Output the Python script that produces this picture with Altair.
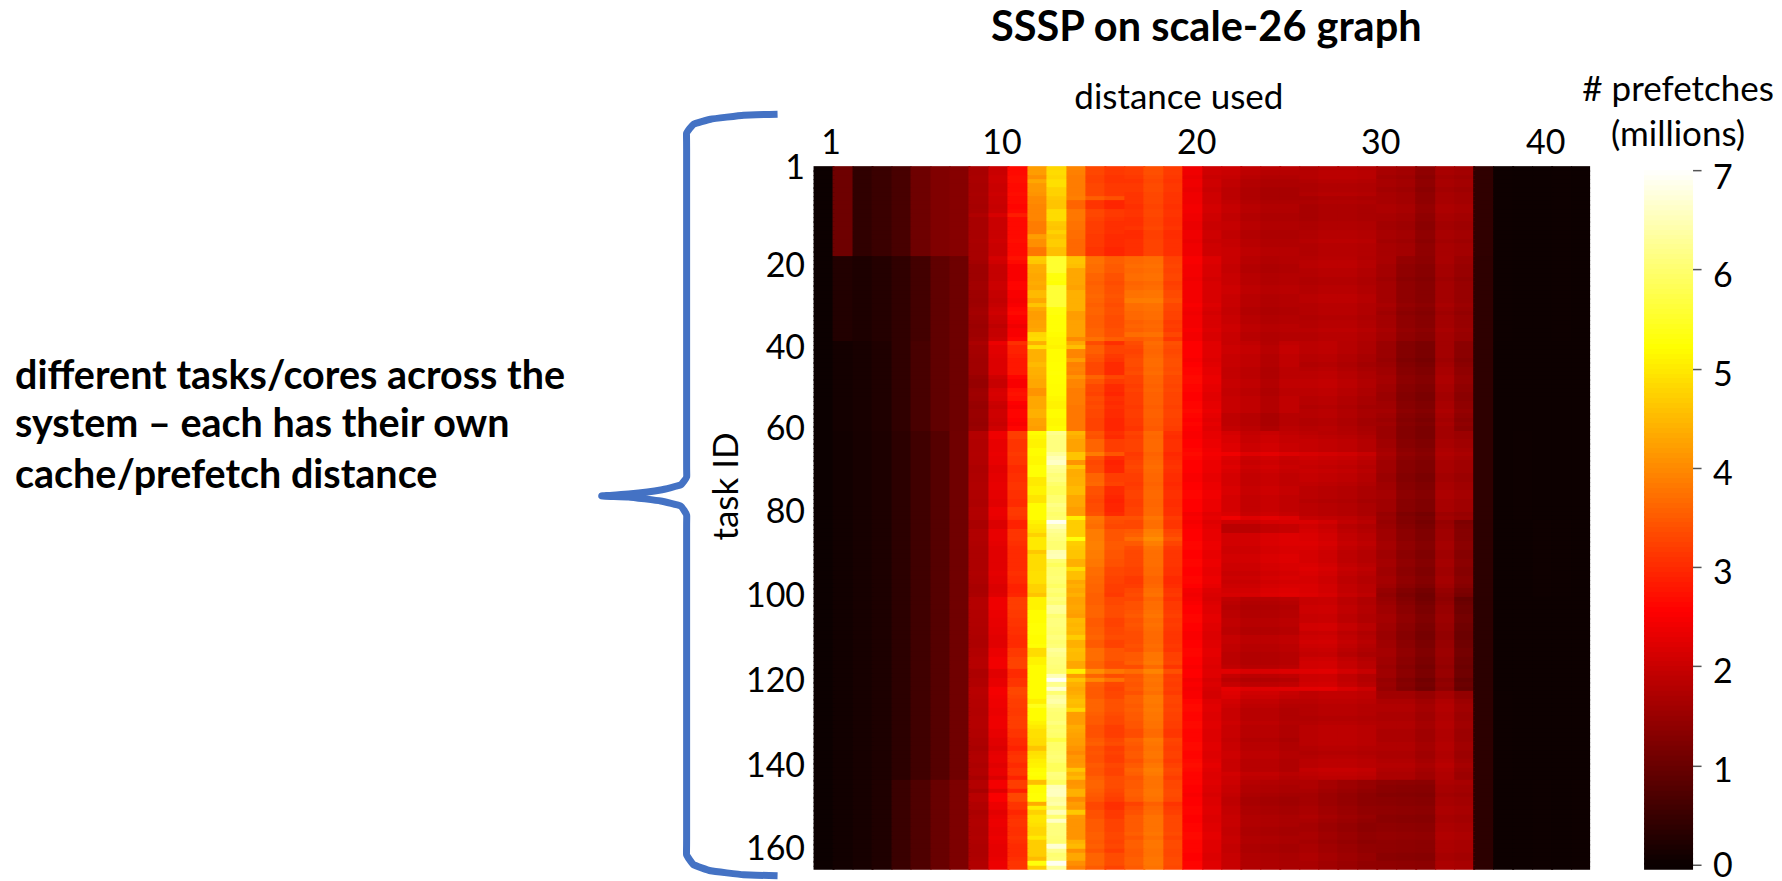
import altair as alt
import numpy as np
import pandas as pd

FONT = "Lato"
X0, COLW = 814.7, 19.42      # page pixels of the heatmap's left edge / column width
Y0, ROWH = 167.0, 4.267
NCOL, NROW = 40, 165

band_edges = [0, 21, 41, 62, 83, 101, 123, 144, 165]
band0 = [.02,1.05,.4,.5,.65,1.05,1.23,1.3,1.65,2.0,2.65,4.1,4.7,3.8,3.2,3.05,3.1,3.3,3.1,2.4,2.05,1.95,1.82,1.75,1.75,1.75,1.8,1.8,1.77,1.65,1.6,1.4,1.65,1.6,.4,.04,.03,.03,.04,.03]
band1 = [.02,.25,.2,.27,.4,.6,.9,1.05,1.55,1.95,2.5,4.3,5.45,4.4,3.75,3.55,3.65,3.7,3.25,2.45,2.15,1.99,1.82,1.75,1.78,1.78,1.82,1.82,1.75,1.61,1.4,1.32,1.61,1.48,.38,.04,.03,.03,.04,.03]
band2 = [.02,.1,.15,.22,.4,.65,.9,1.05,1.5,2.05,2.6,4.3,5.22,3.9,3.4,3.1,3.3,3.65,3.35,2.6,2.3,1.98,1.9,1.77,1.9,1.85,1.88,1.8,1.7,1.57,1.32,1.23,1.65,1.4,.38,.03,.03,.03,.03,.03]
band3 = [.02,.08,.14,.2,.36,.56,.78,1.07,1.7,2.25,3.0,5.1,6.1,4.4,3.75,3.35,3.3,3.7,3.1,2.56,2.36,2.11,1.93,1.99,1.9,1.9,1.86,1.82,1.73,1.57,1.32,1.23,1.65,1.57,.38,.03,.04,.03,.03,.03]
band4 = [.02,.08,.14,.2,.36,.56,.78,1.07,1.7,2.25,3.0,5.0,6.1,4.4,3.75,3.35,3.35,3.75,3.15,2.56,2.32,1.99,1.99,2.07,2.11,2.07,1.99,1.82,1.73,1.57,1.36,1.23,1.57,1.3,.36,.03,.03,.05,.04,.03]
band5 = [.02,.08,.14,.2,.36,.56,.78,1.07,1.7,2.25,3.0,5.1,6.1,4.4,3.6,3.35,3.4,3.7,3.15,2.56,2.24,1.95,1.86,1.86,1.9,1.98,2.0,1.85,1.73,1.57,1.36,1.19,1.48,1.07,.34,.03,.03,.03,.03,.03]
band6 = [.02,.08,.14,.2,.36,.56,.78,1.07,1.7,2.25,3.0,5.1,6.1,4.3,3.5,3.3,3.45,3.75,3.2,2.6,2.2,1.99,1.82,1.82,1.73,1.78,1.82,1.82,1.78,1.69,1.69,1.57,1.73,1.53,.36,.04,.03,.03,.03,.03]
band7 = [.02,.08,.14,.22,.5,.72,.98,1.2,1.7,2.3,3.0,4.9,6.1,4.2,3.5,3.25,3.5,3.75,3.3,2.6,2.24,1.98,1.75,1.71,1.67,1.67,1.58,1.5,1.42,1.4,1.38,1.36,1.69,1.65,.36,.03,.03,.04,.03,.04]
bands = [band0, band1, band2, band3, band4, band5, band6, band7]

col11 = [4.2,4.2,4.05,4.3,4.15,4.15,4.1,4.0,4.0,3.95,3.95,3.95,3.95,3.85,3.85,3.85,4.2,4.05,4.05,3.8,3.8,
         4.7,4.65,4.35,4.35,4.3,4.3,4.35,4.3,4.5,4.5,4.3,4.6,4.3,4.2,4.2,4.25,4.25,4.3,4.8,4.85,4.4,
         4.9,4.4,4.4,4.4,4.5,4.4,4.4,4.35,4.3,4.3,4.1,4.1,4.3,4.3,4.3,4.4,4.4,4.25,4.25,4.2,
         5.2,5.15,5.1,5.1,5.2,5.2,5.15,5.15,5.25,5.25,5.25,5.0,5.0,5.1,5.1,4.95,4.95,5.2,5.2,5.2,5.2,5.1,5.0,
         4.95,4.75,5.0,5.0,5.0,4.65,4.85,4.85,4.85,4.85,4.9,4.9,4.9,4.75,4.75,4.6,5.1,5.1,5.1,5.2,5.2,5.2,5.25,5.25,5.25,5.2,5.2,5.25,4.85,4.85,5.1,5.1,5.2,5.2,5.2,5.2,5.2,5.2,5.2,5.2,
         5.05,5.4,5.2,5.2,5.2,5.1,5.0,4.9,4.9,4.85,4.85,4.6,4.9,4.95,5.05,5.1,5.2,5.25,5.2,4.55,5.2,5.2,5.25,5.25,4.35,5.05,4.75,4.95,4.95,4.9,4.8,4.8,5.0,4.7,4.7,4.7,4.7,4.5,5.3,4.7]
col12 = [4.8,4.85,4.8,4.9,4.9,4.75,4.75,4.65,4.6,4.6,4.85,4.85,4.85,4.65,4.6,4.75,4.6,4.7,4.7,4.55,4.55,
         5.55,5.55,5.55,5.55,5.3,5.3,5.25,5.6,5.6,5.6,5.6,5.6,5.3,5.3,5.25,5.25,5.25,5.25,5.2,5.15,5.15,
         5.1,5.2,5.2,5.2,5.22,5.22,5.25,5.22,5.22,5.2,5.2,5.2,5.15,5.1,5.1,5.2,5.2,5.15,5.15,5.2,
         6.2,6.1,6.1,6.1,6.1,6.3,6.5,6.6,6.25,6.2,6.05,6.1,5.95,5.85,5.85,6.0,6.0,6.15,6.05,5.95,6.0,6.9,6.45,
         6.25,6.15,6.1,6.0,6.0,6.45,6.5,6.0,5.85,6.0,6.0,6.05,6.0,5.9,6.05,5.95,6.1,6.0,6.3,6.25,6.0,6.1,6.1,6.05,6.0,6.1,6.0,6.05,6.3,6.2,6.1,6.1,6.05,6.0,6.5,6.95,6.2,6.7,6.0,6.3,
         6.4,6.2,6.05,6.0,6.0,6.1,5.95,6.0,5.95,5.7,5.95,5.95,6.0,6.05,6.0,5.85,5.85,6.1,6.05,5.9,6.5,6.55,6.55,6.3,6.4,6.05,6.5,6.0,6.6,6.1,6.1,6.1,6.05,6.0,6.7,6.2,6.0,6.05,6.9,6.3]
col13 = [3.95,3.9,3.85,3.85,3.85,3.85,3.85,3.9,3.6,3.6,3.8,3.8,3.8,3.75,3.75,3.7,3.7,3.65,3.65,3.65,3.65,
         4.6,4.6,4.55,4.3,4.3,4.3,4.3,4.25,4.4,4.4,4.4,4.4,4.4,4.2,4.2,4.25,4.25,4.25,4.25,4.0,4.3,
         4.55,3.95,3.95,4.2,3.9,3.95,3.9,4.1,3.95,3.95,3.85,3.85,3.85,3.85,3.8,3.8,3.8,3.8,3.8,3.8,
         4.45,4.35,4.25,4.25,4.25,4.6,4.6,4.1,4.6,4.35,4.35,4.4,4.4,4.5,4.5,4.3,4.3,4.3,4.2,4.2,5.05,4.7,4.7,
         4.7,4.7,5.3,4.7,4.65,4.6,4.6,4.4,4.4,4.85,4.55,4.55,4.3,4.4,4.3,4.4,4.25,4.25,4.3,4.25,4.2,4.5,4.45,4.5,4.45,4.7,4.4,4.4,4.55,4.5,4.5,4.3,4.3,5.05,4.2,4.6,4.4,4.3,4.35,4.45,
         4.55,4.5,4.8,4.2,4.2,4.2,4.35,4.3,4.25,4.2,4.2,4.1,4.0,4.15,4.1,4.15,4.6,4.35,4.5,4.1,4.15,4.4,4.4,4.0,4.2,4.15,4.65,4.15,4.1,4.1,4.1,4.1,4.1,4.4,4.5,4.05,4.3,4.3,4.05,3.9]
col14 = [3.3,3.3,3.25,3.25,3.3,3.3,3.3,3.55,3.1,3.1,3.3,3.3,3.25,3.2,3.2,3.2,3.15,3.15,3.15,3.1,3.1,
         3.75,3.75,3.7,3.7,3.6,3.6,3.55,3.6,3.6,3.65,3.6,3.55,3.6,3.6,3.55,3.55,3.55,3.6,3.6,3.75,3.35,
         3.55,3.55,3.45,3.4,3.3,3.3,3.3,3.6,3.45,3.3,3.3,3.25,3.35,3.3,3.35,3.3,3.3,3.25,3.25,3.25,
         3.45,3.4,3.6,3.6,3.6,3.85,3.4,3.3,3.35,3.35,3.6,3.6,3.65,3.4,3.4,3.35,3.3,3.35,3.35,3.4,3.8,3.75,3.7,
         3.85,3.85,3.85,3.9,3.9,3.85,3.85,3.8,3.8,3.7,3.7,3.65,3.65,3.6,3.6,3.55,3.55,3.55,3.6,3.6,3.6,3.5,3.5,3.55,3.55,3.6,3.5,3.5,3.7,3.7,3.7,3.6,3.6,4.05,3.6,4.0,3.55,3.5,3.5,3.5,
         3.6,3.6,3.6,3.55,3.5,3.5,3.4,3.4,3.4,3.5,3.55,3.4,3.45,3.4,3.4,3.5,3.45,3.45,3.55,3.6,3.6,3.55,3.5,3.45,3.3,3.3,3.4,3.4,3.5,3.5,3.5,3.55,3.55,3.5,3.55,3.45,3.6,3.6,3.6,3.5]
col16 = [3.2,3.2,3.15,3.1,3.15,3.15,3.1,3.1,3.1,3.05,3.1,3.1,3.05,3.05,3.1,3.0,3.0,3.05,3.05,3.05,3.05,
         3.65,3.65,3.7,3.65,3.7,3.7,3.6,3.65,3.75,3.75,3.85,3.7,3.7,3.65,3.65,3.55,3.6,3.55,3.7,3.5,3.35,
         3.3,3.25,3.3,3.35,3.35,3.3,3.35,3.25,3.25,3.2,3.25,3.2,3.2,3.2,3.15,3.2,3.2,3.15,3.15,3.1,
         3.25,3.2,3.25,3.25,3.25,3.15,3.2,3.25,3.3,3.25,3.2,3.2,3.15,3.2,3.25,3.25,3.2,3.2,3.25,3.25,3.4,3.3,3.3,
         3.5,3.55,3.7,3.5,3.35,3.3,3.3,3.3,3.3,3.25,3.25,3.15,3.15,3.2,3.3,3.35,3.3,3.4,3.4,3.45,3.5,3.4,3.45,3.4,3.35,3.35,3.35,3.4,3.35,3.5,3.5,3.55,3.35,3.7,3.45,3.5,3.45,3.5,3.4,3.55,
         3.55,3.5,3.55,3.5,3.5,3.45,3.45,3.35,3.35,3.55,3.5,3.45,3.5,3.5,3.4,3.5,3.6,3.55,3.45,3.5,3.5,3.55,3.55,3.5,3.25,3.35,3.4,3.5,3.5,3.5,3.5,3.55,3.45,3.55,3.55,3.5,3.5,3.55,3.55,3.5]
tone_left = [0,0,.05,.05,0,0,.05,0,0,-.05,0,.2,0,0,0,0,0,.05,0,0,0,
             .25,.15,0,0,0,0,.1,.1,0,0,-.05,0,.1,.15,.05,0,-.1,0,0,.1,.45,
             .3,.3,.25,.2,.2,.2,.2,0,-.1,-.1,.1,.15,.1,-.05,-.1,0,0,-.05,-.1,0,
             .2,.2,.1,.1,.1,.15,.1,.1,0,0,.05,.05,.1,.1,.05,.05,0,0,.15,.15,.1,-.1,-.1,
             .1,.1,.1,.05,0,0,0,0,0,0,.05,0,0,-.1,-.1,-.05,.2,.2,.2,.15,.15,.1,.1,.05,.05,0,0,0,.15,.15,.25,.25,.25,0,0,.1,.1,.3,.3,.25,
             .2,.2,.15,.15,.2,.2,.2,.1,.1,0,0,-.1,.05,.1,.1,0,.1,.1,-.1,.2,.2,-.1,.3,.3,.1,.1,-.05,.05,.1,.1,.05,.05,.1,.05,0,0,0,.05,.1,.1]
tone_c = [.1,.05,0,-.05,-.05,-.1,-.1,-.1,-.05,0,0,-.05,-.05,0,0,-.05,-.05,0,0,.05,.05,
          0,0,-.05,-.05,0,0,0,.05,.05,0,0,0,-.05,-.05,0,0,.05,.05,0,0,0,
          .05,.05,0,0,0,-.05,-.05,-.05,0,0,-.05,-.05,0,0,0,0,-.1,-.1,-.1,-.05,
          0,.05,.05,.1,.1,.3,.1,.05,.1,.05,0,0,0,.05,.05,0,0,0,0,.05,.3,.05,-.15,
          -.15,.1,.1,.1,.05,.05,.1,.1,.05,.05,0,.05,0,.05,.1,.15,-.05,-.1,-.15,-.1,-.1,-.05,-.05,-.1,-.1,0,0,-.05,-.05,-.1,-.1,-.1,-.05,.3,0,-.1,0,.35,.25,.2,
          .1,.05,0,0,0,.05,0,0,0,-.05,0,0,.05,.05,0,0,0,.1,.05,.05,0,0,-.05,-.1,-.1,-.05,-.05,0,0,0,-.05,-.05,0,0,-.05,-.05,0,0,0,0]
tone_d = [0,.05,.05,0,-.05,-.05,0,-.1,-.05,-.1,-.1,-.1,-.1,-.05,-.05,0,0,.05,0,0,0,
          0,.05,.05,0,0,-.05,-.05,0,0,.05,.05,0,0,0,-.05,0,0,.05,0,0,0,
          0,0,-.05,-.05,-.1,-.05,0,0,.05,.05,0,0,-.05,-.05,-.1,-.05,-.05,-.1,-.1,-.05,
          -.05,0,.05,.05,.05,.25,.15,.1,.05,.1,.05,.05,0,-.05,-.05,-.05,-.1,-.05,-.05,-.05,.05,.1,0,
          .05,.1,.1,.15,.1,.05,.05,.05,.1,.15,.1,.05,.05,.1,.1,.15,0,0,.05,.05,0,0,.1,.1,0,.05,.1,.05,0,-.05,.05,.1,.1,.25,.05,.05,.1,.3,.1,.1,
          .05,0,0,0,-.05,0,.05,.05,.05,.05,.05,0,-.05,0,.05,.05,.15,.1,.05,.05,.05,0,-.05,-.05,-.05,0,0,.05,0,-.05,-.05,0,0,-.05,0,0,.05,.05,0,0]
tone_e = [0,0,-.05,0,0,-.05,0,0,0,.05,.05,0,0,-.05,-.05,0,0,-.05,0,0,0,
          .05,.05,0,0,0,-.05,0,0,0,0,0,.05,0,-.05,0,0,0,.05,0,0,-.05,
          -.05,-.05,-.05,-.1,-.05,0,0,.05,.05,0,0,-.05,-.05,0,0,.05,0,-.05,0,-.05,
          -.05,-.05,0,0,.05,.1,.05,0,0,0,-.05,-.05,0,0,.05,.05,0,0,0,-.1,-.05,-.1,-.05,
          0,0,0,.05,.05,0,0,.05,.05,0,0,.05,.05,0,-.1,-.15,-.1,-.05,0,0,.05,.05,0,0,-.05,-.05,0,0,.05,.05,0,0,-.05,0,0,-.1,-.05,-.1,-.1,-.1,
          0,.05,.05,0,0,.05,.05,0,0,0,.05,.05,0,0,.05,.1,.05,0,0,0,-.05,-.05,-.1,-.05,-.05,0,0,-.05,-.05,0,0,.05,.05,0,0,0,-.05,-.05,0,0]

x_tick_pos = [0.9, 9.7, 19.7, 29.2, 37.7]
x_tick_txt = ["1", "10", "20", "30", "40"]
y_tick_pos = [0.5, 23.4, 42.6, 61.6, 81.4, 101.0, 121.0, 140.9, 160.4]
y_tick_txt = ["1", "20", "40", "60", "80", "100", "120", "140", "160"]
cbar_ticks = [0, 1, 2, 3, 4, 5, 6, 7]
cbar_label_px = [868, 773, 674, 575, 476, 377, 278, 180]
cbar_labels = ["0", "1", "2", "3", "4", "5", "6", "7"]

rows = []
for b, band in enumerate(bands):
    for r in range(band_edges[b], band_edges[b + 1]):
        for c in range(NCOL):
            v = band[c]
            if c == 11: v = col11[r]
            elif c == 12: v = col12[r]
            elif c == 13: v = col13[r]
            elif c == 14: v = col14[r]
            elif c == 16: v = col16[r]
            elif c == 15: v += col14[r] - band[14]
            elif c in (17, 18): v += (col16[r] - band[16]) * 0.8
            elif c in (8, 9, 10): v += tone_left[r] * (0.4 + 0.3 * (c - 8))
            elif c in (19, 20): v += tone_e[r]
            elif 21 <= c <= 24: v += tone_c[r]
            elif 25 <= c <= 28: v += tone_d[r]
            elif 29 <= c <= 33: v += tone_e[r]
            # neighbouring cells overlap by about a pixel so no white seams show between them
            c2 = c + 1 if c == NCOL - 1 else c + 1.07
            r2 = r + 1 if r == NROW - 1 else r + 1.3
            rows.append((c, c2, r, r2, round(v, 3)))
heat_df = pd.DataFrame(rows, columns=["c", "c2", "r", "r2", "v"])

def xd(px): return (px - X0) / COLW
def yd(px): return (px - Y0) / ROWH

def expr(pos, txt):
    out = "''"
    for p, t in zip(reversed(pos), reversed(txt)):
        out = f"abs(datum.value-{p})<0.01?'{t}':" + out
    return out

x_scale = alt.Scale(domain=[0, NCOL], nice=False, zero=False, round=True)
y_scale = alt.Scale(domain=[NROW, 0], nice=False, zero=False, round=True)
color_scale = alt.Scale(domain=[0, 2.56, 5.22, 7], range=["#0a0000", "#ff0000", "#ffff00", "#ffffff"], interpolate="rgb", clamp=True)

heat = alt.Chart(heat_df).mark_rect(strokeWidth=0).encode(
    x=alt.X("c:Q", scale=x_scale, axis=alt.Axis(
        orient="top", values=x_tick_pos, labelExpr=expr(x_tick_pos, x_tick_txt), tickSize=0, domain=False, grid=False,
        labelFont=FONT, labelFontSize=34, labelColor="#000", labelAngle=0, labelPadding=6, labelFlush=False, labelBound=False,
        title="distance used", titleFont=FONT, titleFontSize=35, titleFontWeight="normal", titleColor="#000", titlePadding=11, titleX=365)),
    x2="c2:Q",
    y=alt.Y("r:Q", scale=y_scale, axis=alt.Axis(
        orient="left", values=y_tick_pos, labelExpr=expr(y_tick_pos, y_tick_txt), tickSize=0, domain=False, grid=False,
        labelFont=FONT, labelFontSize=34, labelColor="#000", labelPadding=9, labelFlush=False, labelBound=False,
        title="task ID", titleFont=FONT, titleFontSize=35, titleFontWeight="normal", titleColor="#000", titleX=-69, titleY=320)),
    y2="r2:Q",
    color=alt.Color("v:Q", scale=color_scale, legend=None),
)

brace_px = [(779,115),(745,116),(712,120),(695,125),(688,134),(688,150),(688,462),(688,478),(682,486),(662,491),(630,495),(603,497),
            (630,498),(662,502),(682,507),(688,516),(688,532),(688,840),(688,856),(695,866),(712,872),(745,876),(779,877)]
brace_df = pd.DataFrame({"i": range(len(brace_px)), "x": [xd(p[0]) for p in brace_px], "y": [yd(p[1]) for p in brace_px]})
brace = alt.Chart(brace_df).mark_line(color="#4472c4", strokeWidth=7, interpolate="cardinal", tension=0.7, clip=False).encode(
    x=alt.X("x:Q"), y=alt.Y("y:Q"), order="i:O")

def text_layer(items, size, weight, align):
    df = pd.DataFrame({"x": [xd(i[0]) for i in items], "y": [yd(i[1]) for i in items], "t": [i[2] for i in items]})
    return alt.Chart(df).mark_text(font=FONT, fontSize=size, fontWeight=weight, align=align, baseline="middle", color="#000", clip=False).encode(
        x=alt.X("x:Q"), y=alt.Y("y:Q"), text="t:N")

title = text_layer([(1208, 30, "SSSP on scale-26 graph")], 41.5, "bold", "center")
side = text_layer([(16, 378.5, "different tasks/cores across the"), (16, 426.5, "system – each has their own"), (16, 477.5, "cache/prefetch distance")], 39.5, "bold", "left")
cbar_title = text_layer([(1679, 91, "# prefetches"), (1679, 136, "(millions)")], 35, "normal", "center")

main = alt.layer(heat, brace, title, side, cbar_title)

CB_LO, CB_HI = -0.05, 7.04
def cbv(px): return (Y0 + NROW * ROWH - px) / (NROW * ROWH) * (CB_HI - CB_LO) + CB_LO

levels = np.arange(CB_LO, 7.08, 0.05)
cb_df = pd.DataFrame({"lo": levels, "hi": levels + 0.07, "x": xd(1645), "x2": xd(1694), "v": levels + 0.025})
cb_y_scale = alt.Scale(domain=[CB_LO, CB_HI], nice=False, zero=False, round=True)
cbar = alt.Chart(cb_df).mark_rect(strokeWidth=0, clip=False).encode(
    x=alt.X("x:Q"), x2="x2:Q",
    y=alt.Y("lo:Q", scale=cb_y_scale, axis=alt.Axis(
        orient="right", offset=102, values=cbar_ticks, tickSize=9, tickColor="#555", tickWidth=1.5, domain=False, grid=False, title=None, labels=False)),
    y2="hi:Q",
    color=alt.Color("v:Q", scale=color_scale, legend=None),
)
cb_lab_df = pd.DataFrame({"x": xd(1714), "y": [cbv(p) for p in cbar_label_px], "t": cbar_labels})
cbar_text = alt.Chart(cb_lab_df).mark_text(font=FONT, fontSize=34, align="left", baseline="middle", color="#000", clip=False).encode(
    x=alt.X("x:Q"), y=alt.Y("y:Q", scale=cb_y_scale), text="t:N")

chart = alt.layer(main, alt.layer(cbar, cbar_text)).resolve_scale(y="independent").properties(
    width=round(NCOL * COLW), height=round(NROW * ROWH), background="white",
    padding={"left": 7, "top": 0, "right": 0, "bottom": 0}
).configure_view(stroke=None)

chart.save("out.html", embed_options={"renderer": "svg", "actions": False})
